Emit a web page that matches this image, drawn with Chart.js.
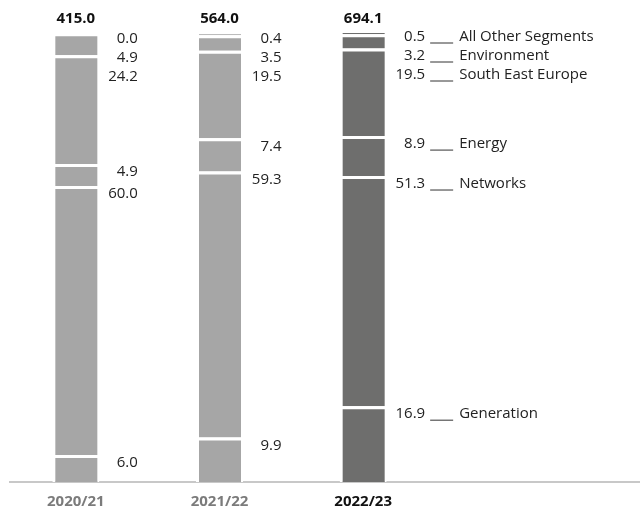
<!DOCTYPE html>
<html>
<head>
<meta charset="utf-8">
<script src="https://cdn.jsdelivr.net/npm/chart.js@4.4.1/dist/chart.umd.min.js"></script>
<style>
html,body{margin:0;padding:0;background:#fff;}
canvas{display:block;}
</style>
</head>
<body>
<canvas id="c" width="640" height="510"></canvas>
<script>
const categories = ['2020/21', '2021/22', '2022/23'];
const totals = ['415.0', '564.0', '694.1'];
const segmentNames = ['Generation', 'Networks', 'Energy', 'South East Europe', 'Environment', 'All Other Segments'];
const generation = [6.0, 9.9, 16.9];
const networks = [60.0, 59.3, 51.3];
const energy = [4.9, 7.4, 8.9];
const southEastEurope = [24.2, 19.5, 19.5];
const environment = [4.9, 3.5, 3.2];
const otherSegments = [0.0, 0.4, 0.5];

const seriesValues = [generation, networks, energy, southEastEurope, environment, otherSegments];
const barColors = ['#a6a6a6', '#a6a6a6', '#6e6e6d'];
const axisColors = ['#7b7b7b', '#7b7b7b', '#111111'];
const FONT = '"Open Sans", "Noto Sans", sans-serif';

const baselinePlugin = {
  id: 'baseline',
  beforeDatasetsDraw(chart) {
    const ctx = chart.ctx, a = chart.chartArea;
    ctx.save();
    ctx.strokeStyle = '#c8c8c8';
    ctx.lineWidth = 2;
    ctx.beginPath();
    ctx.moveTo(9, a.bottom);
    ctx.lineTo(chart.width, a.bottom);
    ctx.stroke();
    ctx.restore();
  }
};

const labelPlugin = {
  id: 'labels',
  afterDatasetsDraw(chart) {
    const ctx = chart.ctx, a = chart.chartArea;
    ctx.save();
    ctx.textBaseline = 'middle';
    categories.forEach((cat, i) => {
      const x = chart.getDatasetMeta(0).data[i].x;
      ctx.font = 'bold 15px ' + FONT;
      ctx.fillStyle = '#111';
      ctx.textAlign = 'center';
      ctx.fillText(totals[i], x, 19);
      ctx.fillStyle = axisColors[i];
      ctx.fillText(cat, x, 502);
      ctx.font = '15px ' + FONT;
      let prev = -Infinity;
      for (let d = seriesValues.length - 1; d >= 0; d--) {
        const el = chart.getDatasetMeta(d).data[i];
        const top = Math.min(el.y, el.base);
        let y = (d === seriesValues.length - 1) ? top + 5 : top + 8;
        y = Math.max(y, prev + 19);
        prev = y;
        ctx.fillStyle = '#222';
        ctx.textAlign = 'right';
        ctx.fillText(seriesValues[d][i].toFixed(1), x + 62, y);
        if (i === categories.length - 1) {
          ctx.strokeStyle = '#333';
          ctx.lineWidth = 1;
          ctx.beginPath();
          ctx.moveTo(x + 67, y + 6);
          ctx.lineTo(x + 90, y + 6);
          ctx.stroke();
          ctx.textAlign = 'left';
          ctx.fillText(segmentNames[d], x + 96, y);
        }
      }
    });
    ctx.restore();
  }
};

new Chart(document.getElementById('c'), {
  type: 'bar',
  data: {
    labels: categories,
    datasets: seriesValues.map((vals, d) => ({
      label: segmentNames[d],
      data: vals,
      backgroundColor: barColors,
      borderColor: '#ffffff',
      borderWidth: {top: 3, left: 3, right: 2, bottom: 0},
      borderSkipped: 'start',
      barThickness: 47,
      inflateAmount: 0
    }))
  },
  options: {
    responsive: false,
    devicePixelRatio: 1,
    animation: false,
    layout: {padding: {left: 4, right: 205, top: 32, bottom: 28}},
    plugins: {legend: {display: false}, tooltip: {enabled: false}},
    scales: {
      x: {stacked: true, display: false},
      y: {stacked: true, display: false, min: 0, max: 100.3}
    }
  },
  plugins: [baselinePlugin, labelPlugin]
});
</script>
</body>
</html>
